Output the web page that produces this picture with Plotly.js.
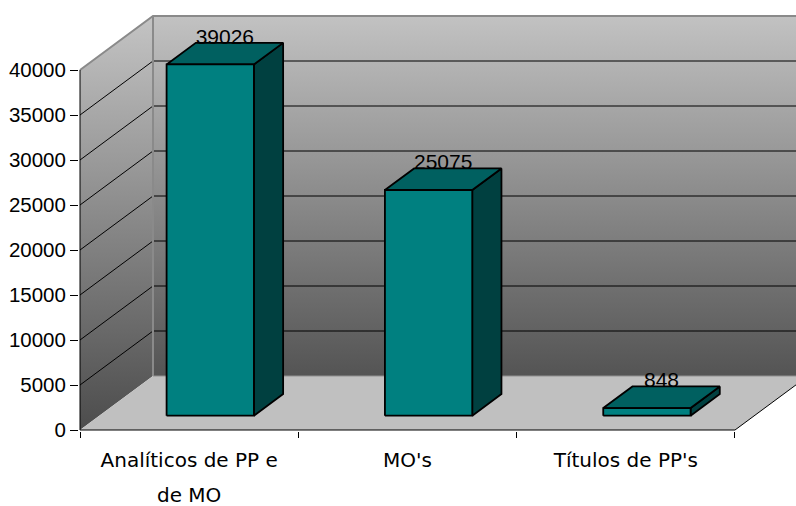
<!DOCTYPE html>
<html>
<head>
<meta charset="utf-8">
<script src="https://cdn.plot.ly/plotly-3.0.1.min.js"></script>
<style>html,body{margin:0;padding:0;background:#fff;}#chart{width:796px;height:506px;}</style>
</head>
<body>
<div id="chart"></div>
<script>
// ---- data ----
const categories = ["Analíticos de PP e<br>de MO", "MO's", "Títulos de PP's"];
const values = [39026, 25075, 848];
const yTickVals = [0, 5000, 10000, 15000, 20000, 25000, 30000, 35000, 40000];
const yTickText = ["0", "5000", "10000", "15000", "20000", "25000", "30000", "35000", "40000"];
const yMax = 40000;

// ---- 3D projection helpers (depth expressed in axis units) ----
const PX_PER_CAT = 218.33;      // pixels per category
const PX_PER_UNIT = 0.009;      // pixels per value unit
const DX = 73 / PX_PER_CAT;     // horizontal shift of full depth, in category units
const DY = 54 / PX_PER_UNIT;    // vertical shift of full depth, in value units
const D0 = 0.265, D1 = 0.665;   // bar depth (front, back)
const HALF = 0.2;               // half bar width in category units
const BAR_SHIFT = 0.008;        // small horizontal nudge of bars
const nCat = categories.length;
const xL = -0.5, xR = nCat - 0.5;

function P(x, y, d) { return [x + d * DX, y + d * DY]; }
function poly(points) {
  const xs = [], ys = [];
  points.forEach(p => { xs.push(p[0]); ys.push(p[1]); });
  return {x: xs, y: ys};
}
function multi(list) {
  const xs = [], ys = [];
  list.forEach((pts, i) => {
    if (i > 0) { xs.push(null); ys.push(null); }
    pts.forEach(p => { xs.push(p[0]); ys.push(p[1]); });
  });
  return {x: xs, y: ys};
}

const traces = [];
const base = {type: 'scatter', mode: 'lines', hoverinfo: 'skip', showlegend: false};

// back wall
const bw = poly([P(xL, 0, 1), P(xR, 0, 1), P(xR, yMax, 1), P(xL, yMax, 1)]);
traces.push(Object.assign({}, base, bw, {fill: 'toself', line: {width: 0, color: 'rgba(0,0,0,0)'},
  fillgradient: {type: 'vertical', colorscale: [[0, '#545454'], [1, '#c2c2c2']]}}));
// left wall
const lw = poly([P(xL, 0, 0), P(xL, yMax, 0), P(xL, yMax, 1), P(xL, 0, 1)]);
traces.push(Object.assign({}, base, lw, {fill: 'toself', line: {width: 0, color: 'rgba(0,0,0,0)'},
  fillgradient: {type: 'vertical', colorscale: [[0, '#4c4c4c'], [1, '#c4c4c4']]}}));
// floor
const fl = poly([P(xL, 0, 0), P(xR, 0, 0), P(xR, 0, 1), P(xL, 0, 1)]);
traces.push(Object.assign({}, base, fl, {fill: 'toself', fillcolor: '#c0c0c0', line: {width: 0, color: 'rgba(0,0,0,0)'}}));

// gridlines
const grid = [];
yTickVals.forEach(v => {
  if (v > 0 && v < yMax) {
    grid.push([P(xL, v, 0), P(xL, v, 1), P(xR, v, 1)]);
  }
});
traces.push(Object.assign({}, base, multi(grid), {line: {color: '#000', width: 1}}));

// grey wall edges
traces.push(Object.assign({}, base, multi([
  [P(xL, yMax, 0), P(xL, yMax, 1), P(xR, yMax, 1)],
  [P(xL, 0, 1), P(xL, yMax, 1)]
]), {line: {color: '#8a8a8a', width: 2}}));
traces.push(Object.assign({}, base, multi([
  [P(xL, 0, 1), P(xR, 0, 1)]
]), {line: {color: '#909090', width: 1}}));

// black edges: axis line, floor front and right
traces.push(Object.assign({}, base, multi([
  [P(xL, yMax, 0), P(xL, 0, 0), P(xR, 0, 0), P(xR, 0, 1)]
]), {line: {color: '#000', width: 1}}));

// bars
const sides = [], tops = [], fronts = [];
values.forEach((v, i) => {
  const a = i + BAR_SHIFT - HALF, b = i + BAR_SHIFT + HALF;
  sides.push([P(b, 0, D0), P(b, 0, D1), P(b, v, D1), P(b, v, D0), P(b, 0, D0)]);
  tops.push([P(a, v, D0), P(b, v, D0), P(b, v, D1), P(a, v, D1), P(a, v, D0)]);
  fronts.push([P(a, 0, D0), P(b, 0, D0), P(b, v, D0), P(a, v, D0), P(a, 0, D0)]);
});
traces.push(Object.assign({}, base, multi(sides), {fill: 'toself', fillcolor: '#004040', line: {color: '#000', width: 1.8}}));
traces.push(Object.assign({}, base, multi(tops), {fill: 'toself', fillcolor: '#006060', line: {color: '#000', width: 1.8}}));
traces.push(Object.assign({}, base, multi(fronts), {fill: 'toself', fillcolor: '#008080', line: {color: '#000', width: 1.8}}));

// value labels
const LABEL_LIFT = 4.5 / PX_PER_UNIT;
traces.push({
  type: 'scatter', mode: 'text', hoverinfo: 'skip', showlegend: false, cliponaxis: false,
  x: values.map((v, i) => i + BAR_SHIFT + ((D0 + D1) / 2) * DX),
  y: values.map(v => v + D1 * DY + LABEL_LIFT),
  text: values.map(v => String(v)),
  textposition: 'middle center',
  textfont: {family: 'Liberation Sans, Arial, sans-serif', size: 21, color: '#000'}
});

// category tick text: glyphs at 20px, line spacing of a 27px font
const catTickText = categories.map(c => c.split('<br>')
  .map(s => '<span style="font-size:20px">' + s + '</span>').join('<br>'));

const plotW = 796 - 79, plotH = 431;
const layout = {
  width: 796, height: 506,
  margin: {l: 79, r: 0, t: 0, b: 75, pad: 0},
  paper_bgcolor: '#ffffff', plot_bgcolor: 'rgba(0,0,0,0)',
  showlegend: false,
  font: {family: 'Liberation Sans, Arial, sans-serif', size: 20, color: '#000'},
  xaxis: {
    range: [xL - 1 / PX_PER_CAT, xL - 1 / PX_PER_CAT + plotW / PX_PER_CAT],
    tickmode: 'array', tickvals: categories.map((c, i) => i), ticktext: catTickText,
    ticks: '', showgrid: false, zeroline: false, showline: false, fixedrange: true,
    tickfont: {family: 'DejaVu Sans, Verdana, sans-serif', size: 27, color: '#000'},
    ticklabelstandoff: 8,
    minor: {tickmode: 'array', tickvals: Array.from({length: nCat + 1}, (_, i) => i - 0.5),
      ticks: 'outside', ticklen: 6, tickwidth: 1, tickcolor: '#000', showgrid: false}
  },
  yaxis: {
    range: [-1 / PX_PER_UNIT, -1 / PX_PER_UNIT + plotH / PX_PER_UNIT],
    tickmode: 'array', tickvals: yTickVals, ticktext: yTickText,
    ticks: 'outside', ticklen: 8, tickwidth: 1, tickcolor: '#000',
    showgrid: false, zeroline: false, showline: false, fixedrange: true,
    tickfont: {family: 'Liberation Sans, Arial, sans-serif', size: 20.5, color: '#000'}
  }
};

Plotly.newPlot('chart', traces, layout, {staticPlot: true, displayModeBar: false});
</script>
</body>
</html>
